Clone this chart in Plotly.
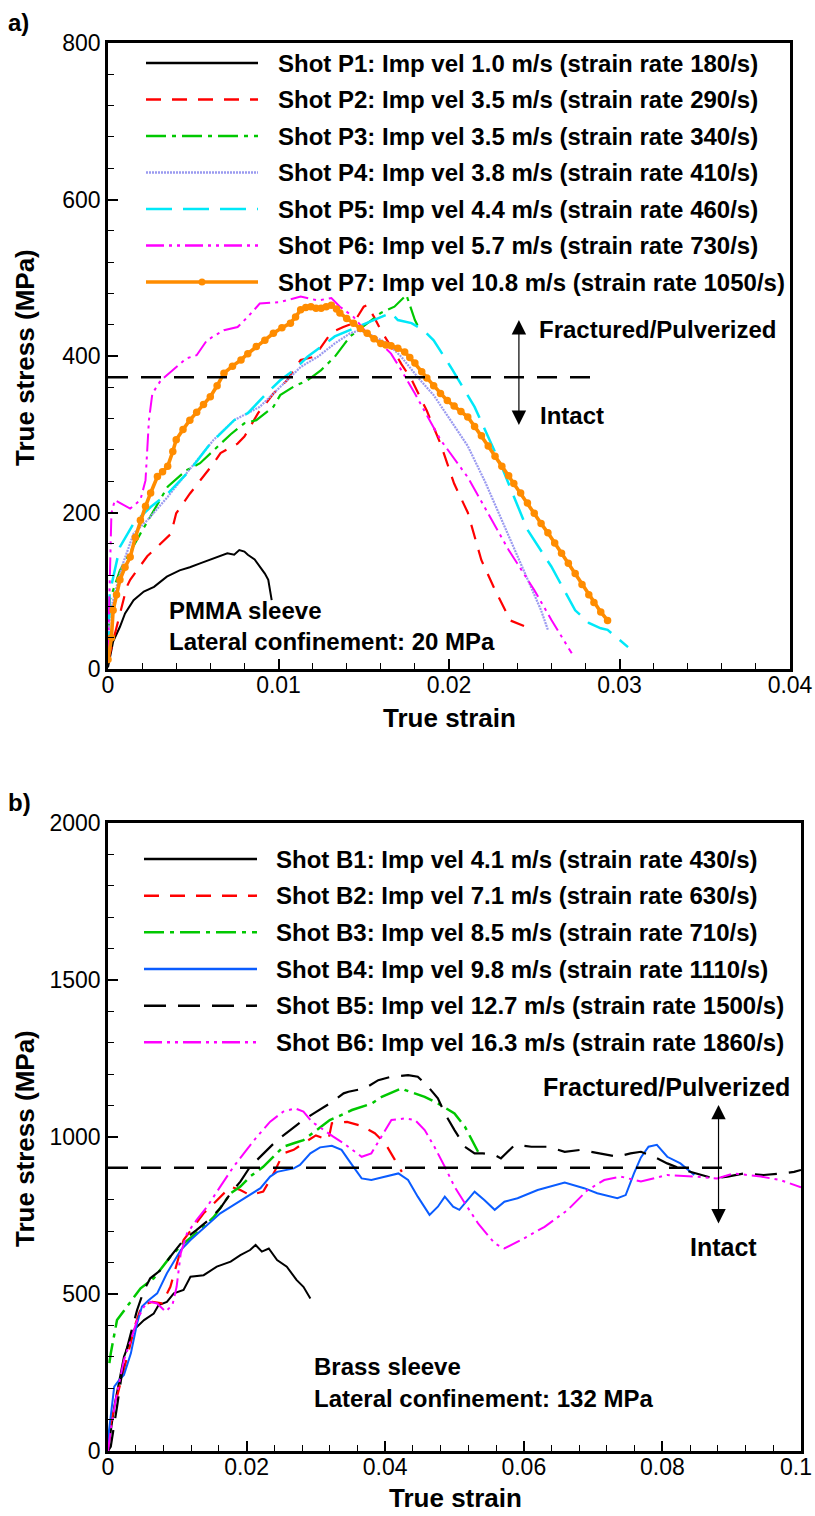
import plotly.graph_objects as go

W, H = 815, 1516

# ---------------- Panel a) PMMA sleeve ----------------
p1_strain = [0, 0.0003, 0.0007, 0.0010, 0.0015, 0.0021, 0.0027, 0.0031, 0.00345, 0.0042, 0.0048, 0.0054,
             0.0059, 0.0064, 0.0070, 0.0074, 0.0077, 0.0080, 0.0082, 0.0086, 0.0089, 0.0092, 0.0094, 0.0096]
p1_stress = [2, 35, 54, 71, 88, 99, 105, 112, 118, 126, 130, 135, 139, 143, 148, 146, 152, 150, 146, 140,
             131, 122, 114, 88]

p2_strain = [0, 0.0004, 0.0011, 0.0013, 0.0023, 0.0037, 0.0040, 0.0048, 0.0054, 0.0062, 0.0066, 0.0076,
             0.0080, 0.0088, 0.0091, 0.0097, 0.0105, 0.0109, 0.0113, 0.0121, 0.0125, 0.0131, 0.0138, 0.0144,
             0.0150, 0.0152, 0.0156, 0.0160, 0.0168, 0.0172, 0.0178, 0.0187, 0.0195, 0.0203, 0.0211, 0.0219,
             0.0227, 0.0233, 0.0236, 0.0244]
p2_stress = [10, 45, 105, 114, 144, 173, 199, 224, 241, 263, 276, 288, 297, 327, 335, 352, 369, 382, 395, 399,
             412, 430, 437, 442, 463, 465, 450, 433, 405, 390, 370, 330, 288, 237, 200, 139, 101, 75, 62, 55]

p3_strain = [0, 0.0001, 0.0007, 0.0019, 0.0035, 0.0046, 0.0054, 0.0064, 0.0072, 0.0080, 0.0087, 0.0097,
             0.0101, 0.0109, 0.0117, 0.0125, 0.0133, 0.0142, 0.0152, 0.0160, 0.0168, 0.0175, 0.0180, 0.0182]
p3_stress = [20, 88, 126, 173, 233, 254, 263, 284, 300, 314, 318, 335, 350, 361, 369, 382, 399, 425, 442, 455,
             463, 478, 446, 437]

p4_strain = [0, 0.0001, 0.0008, 0.0015, 0.0023, 0.0035, 0.0046, 0.0054, 0.0062, 0.0074, 0.0089, 0.0097,
             0.0105, 0.0113, 0.0123, 0.0133, 0.0142, 0.0148, 0.0156, 0.0164, 0.0172, 0.0182, 0.0191, 0.0201,
             0.0211, 0.0221, 0.0231, 0.0240, 0.0248, 0.0254, 0.0258]
p4_stress = [15, 71, 130, 173, 190, 220, 250, 271, 293, 318, 335, 352, 369, 386, 399, 416, 429, 433, 425, 416,
             399, 372, 350, 318, 285, 240, 190, 145, 105, 75, 50]

p5_strain = [0, 0.0001, 0.0007, 0.0015, 0.0025, 0.0035, 0.0048, 0.0060, 0.0074, 0.0082, 0.0093, 0.0101,
             0.0109, 0.0117, 0.0125, 0.0133, 0.0144, 0.0152, 0.0160, 0.0166, 0.0170, 0.0178, 0.0185, 0.0191,
             0.0201, 0.0215, 0.0231, 0.0246, 0.0260, 0.0274, 0.0282, 0.0289, 0.0293, 0.0305]
p5_stress = [15, 97, 156, 186, 207, 224, 254, 288, 318, 327, 352, 369, 382, 399, 412, 425, 435, 442, 450, 455,
             446, 442, 433, 420, 386, 335, 258, 178, 131, 75, 59, 52, 50, 28]

p6_strain = [0, 0.0002, 0.0004, 0.0013, 0.0019, 0.0022, 0.0024, 0.0026, 0.0031, 0.0038, 0.0046, 0.0052,
             0.0058, 0.0068, 0.0076, 0.0082, 0.0089, 0.0101, 0.0113, 0.0123, 0.0131, 0.0136, 0.0144, 0.0152,
             0.0160, 0.0166, 0.0172, 0.0180, 0.0195, 0.0211, 0.0223, 0.0235, 0.0250, 0.0260, 0.0272]
p6_stress = [20, 199, 216, 205, 216, 241, 318, 352, 369, 382, 397, 401, 420, 433, 437, 450, 467, 469, 476, 471,
             474, 463, 450, 429, 416, 403, 382, 352, 293, 245, 199, 152, 101, 63, 20]

p7_strain = [0, 0.0002, 0.0003, 0.0005, 0.0007, 0.0010, 0.0013, 0.0016, 0.0019, 0.0022, 0.0025, 0.0029,
             0.0032, 0.0035, 0.0038, 0.0040, 0.0044, 0.0048, 0.0052, 0.0056, 0.0060, 0.0064, 0.0068, 0.0073,
             0.0078, 0.0082, 0.0087, 0.0092, 0.0097, 0.0102, 0.0107, 0.0110, 0.0113, 0.0116, 0.0119, 0.0122,
             0.0125, 0.0128, 0.0131, 0.0134, 0.0136, 0.0140, 0.0144, 0.0148, 0.0152, 0.0156, 0.0160, 0.0163,
             0.0166, 0.0170, 0.0174, 0.0177, 0.0180, 0.0184, 0.0187, 0.0191, 0.0195, 0.0199, 0.0203, 0.0207,
             0.0211, 0.0215, 0.0219, 0.0223, 0.0227, 0.0231, 0.0235, 0.0238, 0.0242, 0.0246, 0.0250, 0.0254,
             0.0258, 0.0262, 0.0266, 0.0270, 0.0274, 0.0278, 0.0282, 0.0285, 0.0289, 0.0293]
p7_stress = [12, 40, 75, 95, 114, 130, 143, 168, 190, 208, 225, 246, 252, 259, 278, 293, 306, 318, 328, 338,
             348, 362, 378, 387, 395, 403, 412, 420, 429, 436, 442, 450, 459, 462, 463, 461, 461, 463, 465, 460,
             455, 448, 442, 435, 429, 422, 416, 414, 413, 410, 405, 398, 391, 380, 372, 362, 352, 343, 336, 329,
             322, 310, 298, 285, 272, 259, 247, 237, 225, 212, 199, 186, 174, 161, 148, 135, 122, 108, 95, 85,
             73, 62]

top_threshold = 373          # MPa, fracture threshold (panel a)
top_threshold_end = 0.0284
top_arrow_strain = 0.0241
top_arrow_hi, top_arrow_lo = 446, 310

top_x_ticks = [0, 0.01, 0.02, 0.03, 0.04]
top_x_labels = ["0", "0.01", "0.02", "0.03", "0.04"]
top_y_ticks = [0, 200, 400, 600, 800]

top_names = ["Shot P1: Imp vel 1.0 m/s (strain rate 180/s)",
             "Shot P2: Imp vel 3.5 m/s (strain rate 290/s)",
             "Shot P3: Imp vel 3.5 m/s (strain rate 340/s)",
             "Shot P4: Imp vel 3.8 m/s (strain rate 410/s)",
             "Shot P5: Imp vel 4.4 m/s (strain rate 460/s)",
             "Shot P6: Imp vel 5.7 m/s (strain rate 730/s)",
             "Shot P7: Imp vel 10.8 m/s (strain rate 1050/s)"]

# ---------------- Panel b) Brass sleeve ----------------
b1_strain = [0, 0.0004, 0.0009, 0.0023, 0.0037, 0.0052, 0.0066, 0.0073, 0.0085, 0.0095, 0.0109, 0.0119,
             0.0138, 0.0157, 0.0177, 0.0191, 0.0205, 0.0213, 0.0222, 0.0232, 0.0244, 0.0258, 0.0272, 0.0282,
             0.0292]
b1_stress = [0, 60, 141, 300, 385, 417, 438, 465, 475, 502, 513, 555, 560, 587, 603, 624, 640, 656, 635, 645,
             608, 587, 545, 523, 486]

b2_strain = [0, 0.0004, 0.0013, 0.0028, 0.0040, 0.0049, 0.0064, 0.0078, 0.0090, 0.0109, 0.0138, 0.0153,
             0.0177, 0.0191, 0.0205, 0.0224, 0.0239, 0.0253, 0.0268, 0.0282, 0.0300, 0.0318, 0.0323, 0.0345,
             0.0366, 0.0385, 0.0400, 0.0414, 0.0424]
b2_stress = [0, 88, 173, 300, 407, 465, 475, 470, 523, 672, 757, 789, 842, 831, 815, 826, 884, 948, 959, 980,
             1005, 990, 1044, 1048, 1035, 1012, 980, 927, 889]

b3_strain = [0.0002, 0.0004, 0.0013, 0.0028, 0.0047, 0.0066, 0.0090, 0.0109, 0.0133, 0.0153, 0.0177, 0.0191,
             0.0205, 0.0224, 0.0234, 0.0253, 0.0268, 0.0282, 0.0301, 0.0320, 0.0332, 0.0352, 0.0381, 0.0395,
             0.0424, 0.0428, 0.0457, 0.0476, 0.0500, 0.0515, 0.0534]
b3_stress = [280, 311, 417, 460, 518, 550, 619, 661, 704, 746, 821, 842, 874, 905, 927, 969, 980, 990, 1022,
             1054, 1065, 1086, 1107, 1128, 1155, 1150, 1128, 1107, 1075, 1033, 953]

b4_strain = [0, 0.0001, 0.0009, 0.0016, 0.0023, 0.0033, 0.0042, 0.0049, 0.0059, 0.0071, 0.0085, 0.0105,
             0.0119, 0.0138, 0.0162, 0.0181, 0.0205, 0.0220, 0.0234, 0.0244, 0.0268, 0.0277, 0.0292, 0.0306,
             0.0323, 0.0337, 0.0347, 0.0366, 0.0380, 0.0400, 0.0419, 0.0433, 0.0447, 0.0464, 0.0476, 0.0486,
             0.0498, 0.0507, 0.0517, 0.0529, 0.0543, 0.0558, 0.0572, 0.0591, 0.0620, 0.0659, 0.0687, 0.0706,
             0.0735, 0.0747, 0.0759, 0.0769, 0.0780, 0.0792, 0.0807, 0.0826, 0.0846]
b4_stress = [0, 56, 205, 226, 242, 311, 407, 460, 481, 502, 566, 640, 672, 709, 757, 783, 815, 837, 874, 889,
             900, 911, 948, 967, 972, 959, 927, 868, 863, 874, 884, 863, 810, 752, 778, 810, 778, 768, 794, 826,
             799, 768, 794, 805, 831, 855, 837, 821, 805, 815, 884, 935, 969, 975, 937, 916, 879]

b5_strain = [0, 0.0004, 0.0013, 0.0023, 0.0033, 0.0042, 0.0052, 0.0061, 0.0076, 0.0090, 0.0109, 0.0128,
             0.0148, 0.0162, 0.0177, 0.0191, 0.0205, 0.0224, 0.0244, 0.0263, 0.0282, 0.0301, 0.0320, 0.0340,
             0.0347, 0.0371, 0.0390, 0.0409, 0.0433, 0.0447, 0.0462, 0.0476, 0.0486, 0.0500, 0.0515, 0.0529,
             0.0541, 0.0558, 0.0567, 0.0587, 0.0611, 0.0635, 0.0659, 0.0682, 0.0706, 0.0735, 0.0754, 0.0769,
             0.0788, 0.0807, 0.0831, 0.0850, 0.0874, 0.0894, 0.0918, 0.0946, 0.0975, 0.0990, 0.1000]
b5_stress = [0, 14, 141, 290, 375, 449, 513, 550, 576, 619, 672, 704, 741, 773, 821, 858, 905, 948, 990, 1022,
             1054, 1081, 1107, 1139, 1144, 1155, 1181, 1192, 1197, 1192, 1160, 1123, 1075, 1022, 969, 948, 948,
             943, 932, 975, 969, 969, 953, 959, 948, 937, 948, 953, 937, 916, 895, 884, 868, 874, 884, 879, 884,
             889, 895]

b6_strain = [0, 0.0004, 0.0011, 0.0023, 0.0033, 0.0042, 0.0052, 0.0061, 0.0071, 0.0083, 0.0093, 0.0099,
             0.0105, 0.0114, 0.0128, 0.0143, 0.0162, 0.0181, 0.0200, 0.0215, 0.0234, 0.0253, 0.0270, 0.0282,
             0.0294, 0.0311, 0.0325, 0.0340, 0.0352, 0.0366, 0.0380, 0.0395, 0.0409, 0.0428, 0.0443, 0.0457,
             0.0471, 0.0486, 0.0500, 0.0515, 0.0534, 0.0558, 0.0572, 0.0596, 0.0630, 0.0663, 0.0692, 0.0716,
             0.0740, 0.0769, 0.0807, 0.0846, 0.0879, 0.0903, 0.0942, 0.0970, 0.1000]
b6_stress = [0, 67, 162, 290, 354, 417, 460, 475, 470, 444, 465, 523, 630, 693, 736, 778, 842, 905, 959, 1001,
             1049, 1081, 1091, 1081, 1049, 1022, 1001, 980, 959, 937, 948, 1001, 1054, 1059, 1054, 1022, 969,
             905, 842, 789, 725, 661, 645, 672, 714, 767, 831, 863, 874, 858, 879, 874, 868, 884, 874, 863, 840]

bot_threshold = 902
bot_threshold_end = 0.0903
bot_arrow_strain = 0.0881
bot_arrow_hi, bot_arrow_lo = 1102, 720

bot_x_ticks = [0, 0.02, 0.04, 0.06, 0.08, 0.1]
bot_x_labels = ["0", "0.02", "0.04", "0.06", "0.08", ""]   # last label drawn as an edge-aligned text
bot_x_last_label = "0.1"
bot_y_ticks = [0, 500, 1000, 1500, 2000]

bot_names = ["Shot B1: Imp vel 4.1 m/s (strain rate 430/s)",
             "Shot B2: Imp vel 7.1 m/s (strain rate 630/s)",
             "Shot B3: Imp vel 8.5 m/s (strain rate 710/s)",
             "Shot B4: Imp vel 9.8 m/s (strain rate 1110/s)",
             "Shot B5: Imp vel 12.7 m/s (strain rate 1500/s)",
             "Shot B6: Imp vel 16.3 m/s (strain rate 1860/s)"]

# ---------------- styles ----------------
C_BLACK, C_RED, C_GREEN, C_LAV, C_CYAN, C_MAG, C_ORANGE, C_BLUE = (
    "#000000", "#ff0000", "#00c800", "#9a9af0", "#00e8f8", "#ff00ff", "#ff8c00", "#0a5cff")
D_DASH = "15px,11px"
D_DASHDOT = "20px,6px,4px,6px"
D_DOT = "2px,1px"
D_LONG = "26px,11px"
D_DASHDOTDOT = "18px,5px,3px,5px,3px,5px"
D_BLACKLONG = "22px,12px"

top_series = [
    (p1_strain, p1_stress, C_BLACK, "solid", 2),
    (p2_strain, p2_stress, C_RED, D_DASH, 2.2),
    (p3_strain, p3_stress, C_GREEN, D_DASHDOT, 2.2),
    (p4_strain, p4_stress, C_LAV, D_DOT, 2.2),
    (p5_strain, p5_stress, C_CYAN, D_LONG, 2.5),
    (p6_strain, p6_stress, C_MAG, D_DASHDOTDOT, 2),
]
bot_series = [
    (b1_strain, b1_stress, C_BLACK, "solid", 2),
    (b2_strain, b2_stress, C_RED, D_DASH, 2.2),
    (b3_strain, b3_stress, C_GREEN, D_DASHDOT, 2.5),
    (b4_strain, b4_stress, C_BLUE, "solid", 2),
    (b5_strain, b5_stress, C_BLACK, D_BLACKLONG, 2.2),
    (b6_strain, b6_stress, C_MAG, D_DASHDOTDOT, 2),
]

def X(px):
    return px / W

def Y(py):
    return 1 - py / H

fig = go.Figure()

for xs, ys, col, dash, w in top_series:
    assert len(xs) == len(ys)
    fig.add_trace(go.Scatter(x=xs, y=ys, mode="lines", line=dict(color=col, dash=dash, width=w),
                             xaxis="x", yaxis="y", showlegend=False))
assert len(p7_strain) == len(p7_stress)
fig.add_trace(go.Scatter(x=p7_strain, y=p7_stress, mode="lines+markers",
                         line=dict(color=C_ORANGE, width=3.6), marker=dict(color=C_ORANGE, size=7.5),
                         xaxis="x", yaxis="y", showlegend=False))
fig.add_trace(go.Scatter(x=[0, top_threshold_end], y=[top_threshold, top_threshold], mode="lines",
                         line=dict(color="black", dash="20px,13px", width=2.5),
                         xaxis="x", yaxis="y", showlegend=False))

for xs, ys, col, dash, w in bot_series:
    assert len(xs) == len(ys)
    fig.add_trace(go.Scatter(x=xs, y=ys, mode="lines", line=dict(color=col, dash=dash, width=w),
                             xaxis="x2", yaxis="y2", showlegend=False))
fig.add_trace(go.Scatter(x=[0, bot_threshold_end], y=[bot_threshold, bot_threshold], mode="lines",
                         line=dict(color="black", dash="20px,13px", width=2.5),
                         xaxis="x2", yaxis="y2", showlegend=False))

FONT = "Liberation Sans, Arial, sans-serif"
TICKFONT = dict(family=FONT, size=23, color="black")
axis_common = dict(showline=True, linecolor="black", linewidth=2.5, mirror=True, ticks="inside",
                   ticklen=10, tickwidth=2, tickcolor="black", showgrid=False, zeroline=False,
                   tickfont=TICKFONT, tickmode="array")

fig.update_layout(
    width=W, height=H, margin=dict(l=0, r=0, t=0, b=0), template="none",
    paper_bgcolor="white", plot_bgcolor="white", showlegend=False,
    xaxis=dict(domain=[X(108), X(790)], range=[0, 0.04], tickvals=top_x_ticks, ticktext=top_x_labels,
               anchor="y", ticklabelstandoff=-6,
               minor=dict(ticks="inside", ticklen=6, tickwidth=1, tickcolor="black", dtick=0.002, tick0=0),
               **axis_common),
    yaxis=dict(domain=[Y(669), Y(43)], range=[0, 800], tickvals=top_y_ticks, anchor="x",
               minor=dict(ticks="inside", ticklen=6, tickwidth=1, tickcolor="black", dtick=40, tick0=0),
               **axis_common),
    xaxis2=dict(domain=[X(108), X(801)], range=[0, 0.1], tickvals=bot_x_ticks, ticktext=bot_x_labels,
                anchor="y2", ticklabelstandoff=-6,
                minor=dict(ticks="inside", ticklen=6, tickwidth=1, tickcolor="black", dtick=0.004, tick0=0),
                **axis_common),
    yaxis2=dict(domain=[Y(1451), Y(823)], range=[0, 2000], tickvals=bot_y_ticks, anchor="x2",
                minor=dict(ticks="inside", ticklen=6, tickwidth=1, tickcolor="black", dtick=100, tick0=0),
                **axis_common),
)

shapes = []
annotations = []

def text(px, py, s, size=24, xanchor="left", angle=0, bold=True):
    annotations.append(dict(x=X(px), y=Y(py), xref="paper", yref="paper", text=(f"<b>{s}</b>" if bold else s),
                            showarrow=False, xanchor=xanchor, yanchor="middle", textangle=angle,
                            font=dict(family=FONT, size=size, color="black")))

# legends (panel a)
top_rows = [63, 99.5, 136, 172.5, 209, 245.5, 282]
top_styles = [(C_BLACK, "solid", 2.5), (C_RED, D_DASH, 2.5), (C_GREEN, D_DASHDOT, 2.5), (C_LAV, D_DOT, 2.5),
              (C_CYAN, D_LONG, 2.5), (C_MAG, D_DASHDOTDOT, 2.5), (C_ORANGE, "solid", 3.6)]
for row, (col, dash, w), name in zip(top_rows, top_styles, top_names):
    shapes.append(dict(type="line", xref="paper", yref="paper", x0=X(146), x1=X(258), y0=Y(row), y1=Y(row),
                       line=dict(color=col, dash=dash, width=w)))
    text(276, row, name, 24)
shapes.append(dict(type="circle", xref="paper", yref="paper", x0=X(198.5), x1=X(205.5),
                   y0=Y(top_rows[-1] + 3.5), y1=Y(top_rows[-1] - 3.5),
                   fillcolor=C_ORANGE, line=dict(color=C_ORANGE, width=0)))

bot_rows = [859, 895.7, 932.3, 969, 1005.7, 1042.3]
bot_styles = [(C_BLACK, "solid", 2.5), (C_RED, D_DASH, 2.5), (C_GREEN, D_DASHDOT, 2.5), (C_BLUE, "solid", 2.5),
              (C_BLACK, D_BLACKLONG, 2.5), (C_MAG, D_DASHDOTDOT, 2.5)]
for row, (col, dash, w), name in zip(bot_rows, bot_styles, bot_names):
    shapes.append(dict(type="line", xref="paper", yref="paper", x0=X(144), x1=X(257), y0=Y(row), y1=Y(row),
                       line=dict(color=col, dash=dash, width=w)))
    text(274, row, name, 24)

# last bottom x tick label, kept inside the page
annotations.append(dict(x=X(814), y=Y(1467), xref="paper", yref="paper", text=bot_x_last_label,
                        showarrow=False, xanchor="right", yanchor="middle", font=TICKFONT))

# panel labels, axis titles, notes
text(6, 22, "a)", 24)
text(6, 803, "b)", 24)
text(449, 718, "True strain", 26, xanchor="center")
text(455, 1498, "True strain", 26, xanchor="center")
text(25, 358, "True stress (MPa)", 26, xanchor="center", angle=-90)
text(25, 1139, "True stress (MPa)", 26, xanchor="center", angle=-90)
text(167, 610, "PMMA sleeve", 24)
text(167, 641, "Lateral confinement: 20 MPa", 24)
text(312, 1366, "Brass sleeve", 24)
text(312, 1398, "Lateral confinement: 132 MPa", 24)
text(537, 329, "Fractured/Pulverized", 24)
text(538, 415, "Intact", 24)
text(666, 1087, "Fractured/Pulverized", 25, xanchor="center")
text(723, 1247, "Intact", 25, xanchor="center")

# double arrows
for xa, ya, s, hi, lo in [("x", "y", top_arrow_strain, top_arrow_hi, top_arrow_lo),
                           ("x2", "y2", bot_arrow_strain, bot_arrow_hi, bot_arrow_lo)]:
    annotations.append(dict(x=s, y=hi, ax=s, ay=lo, xref=xa, yref=ya, axref=xa, ayref=ya, text="",
                            showarrow=True, arrowhead=2, startarrowhead=2, arrowside="end+start",
                            arrowsize=2.4, startarrowsize=2.4, arrowwidth=1.2, arrowcolor="black"))

fig.update_layout(shapes=shapes, annotations=annotations)
fig.write_html("out.html")
